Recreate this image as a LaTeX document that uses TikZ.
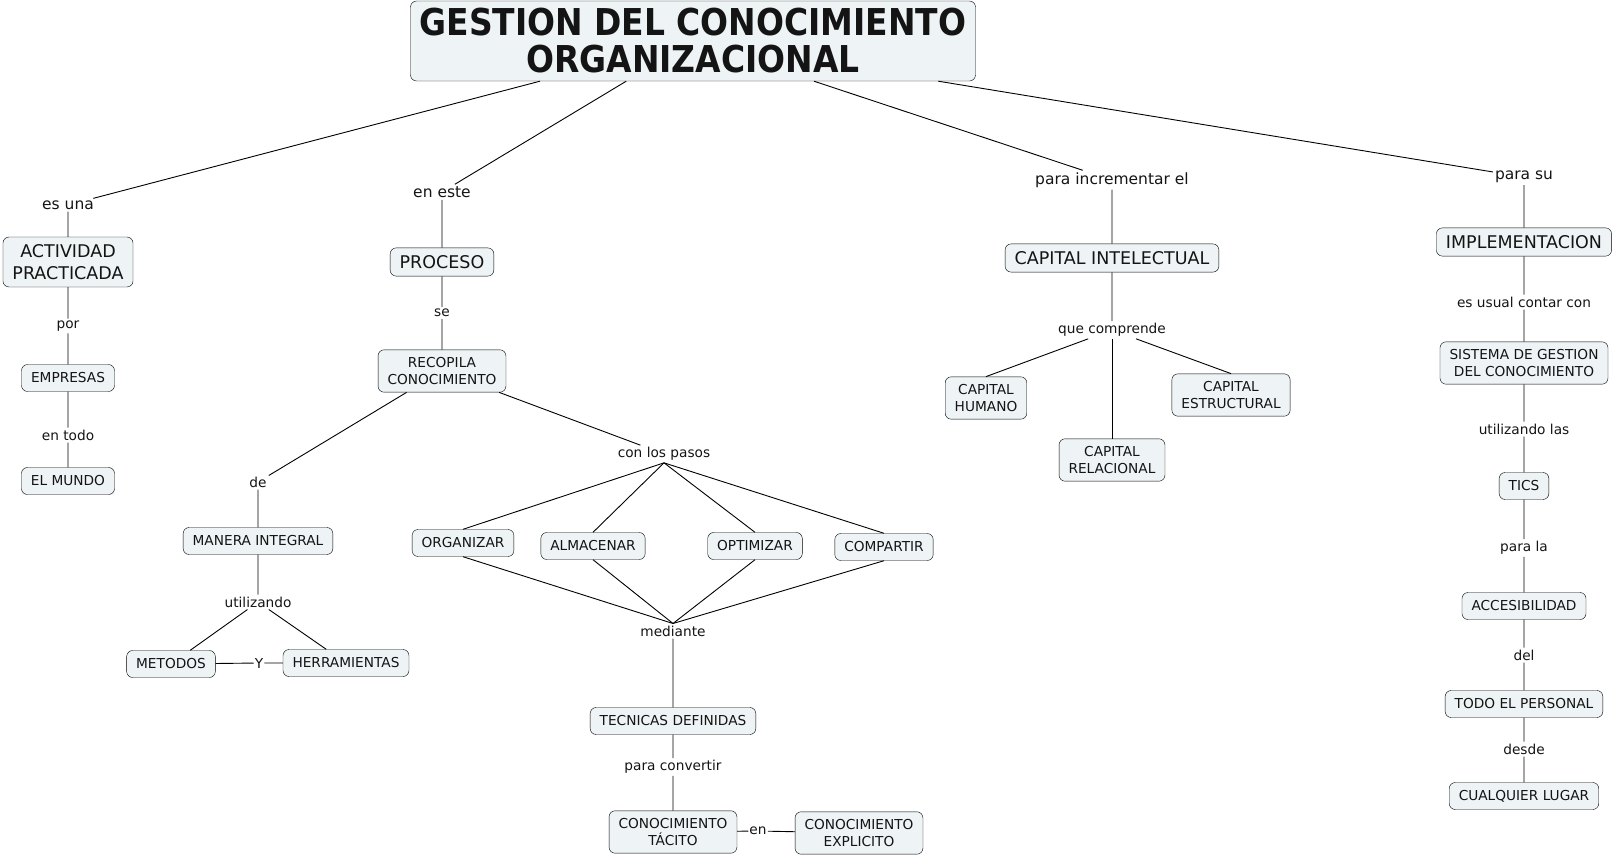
\documentclass[tikz,border=0pt]{standalone}
\usepackage{fontspec}
\setmainfont{DejaVu Sans}
\newfontfamily\titlefont[FakeStretch=0.89]{DejaVu Sans Bold}
\definecolor{cajafondo}{RGB}{238,244,246}
\definecolor{texto}{RGB}{20,20,20}

\begin{document}
\begin{tikzpicture}[
        x=1pt, y=-1pt,
        every node/.style={text=texto},
        concepto/.style={draw, fill=cajafondo, rounded corners=6pt, align=center, inner xsep=9.5pt, inner ysep=7.5pt, minimum height=27pt, font=\fontsize{13.7}{17}\selectfont},
        grande/.style={concepto, minimum height=28pt, font=\fontsize{17.5}{21.7}\selectfont},
        enlace/.style={inner sep=2pt, align=center, font=\fontsize{13.7}{16}\selectfont},
        enlace_grande/.style={enlace, font=\fontsize{15.5}{18}\selectfont},
        linea/.style={draw=black, line width=0.9pt}
        ]

        \useasboundingbox (0,0) rectangle (1617,856);

        % Title
        \node[concepto, inner xsep=9pt, minimum width=562pt, minimum height=78pt, font=\titlefont\fontsize{37}{37}\selectfont] (Gestion) at (693,41) {GESTION DEL CONOCIMIENTO\\ORGANIZACIONAL};

        % Branch 1: actividad
        \node[enlace_grande] (L_esuna) at (68,205) {es una};
        \node[grande] (Actividad) at (68,262) {ACTIVIDAD\\PRACTICADA};
        \node[enlace] (L_por) at (68,326) {por};
        \node[concepto] (Empresas) at (68,378) {EMPRESAS};
        \node[enlace] (L_entodo) at (68,435) {en todo};
        \node[concepto] (Mundo) at (68,481) {EL MUNDO};

        % Branch 2: proceso
        \node[enlace_grande] (L_eneste) at (442,192) {en este};
        \node[grande] (Proceso) at (442,262) {PROCESO};
        \node[enlace] (L_se) at (442,313) {se};
        \node[concepto] (Recopila) at (442,371) {RECOPILA\\CONOCIMIENTO};
        \node[enlace] (L_de) at (258,482) {de};
        \node[concepto] (Manera) at (258,541) {MANERA INTEGRAL};
        \node[enlace] (L_utilizando) at (258,602) {utilizando};
        \node[concepto] (Metodos) at (171,664) {METODOS};
        \node[enlace, inner sep=1pt] (L_y) at (259,663) {Y};
        \node[concepto] (Herramientas) at (346,663) {HERRAMIENTAS};
        \node[enlace] (L_pasos) at (664,454) {con los pasos};
        \node[concepto] (Paso-1) at (463,543) {ORGANIZAR};
        \node[concepto] (Paso-2) at (593,546) {ALMACENAR};
        \node[concepto] (Paso-3) at (755,546) {OPTIMIZAR};
        \node[concepto] (Paso-4) at (884,547) {COMPARTIR};
        \node[enlace] (L_mediante) at (673,631) {mediante};
        \node[concepto] (Tecnicas) at (673,721) {TECNICAS DEFINIDAS};
        \node[enlace] (L_convertir) at (673,767) {para convertir};
        \node[concepto] (Tacito) at (673,832) {CONOCIMIENTO\\TÁCITO};
        \node[enlace, inner sep=1pt] (L_en) at (758,831) {en};
        \node[concepto] (Explicito) at (859,833) {CONOCIMIENTO\\EXPLICITO};

        % Branch 3: capital intelectual
        \node[enlace_grande] (L_incrementar) at (1112,180) {para incrementar el};
        \node[grande] (Capital) at (1112,258) {CAPITAL INTELECTUAL};
        \node[enlace] (L_comprende) at (1112,330) {que comprende};
        \node[concepto] (Humano) at (986,398) {CAPITAL\\HUMANO};
        \node[concepto] (Relacional) at (1112,460) {CAPITAL\\RELACIONAL};
        \node[concepto] (Estructural) at (1231,395) {CAPITAL\\ESTRUCTURAL};

        % Branch 4: implementacion
        \node[enlace_grande] (L_parasu) at (1524,177) {para su};
        \node[grande] (Implementacion) at (1524,242) {IMPLEMENTACION};
        \node[enlace] (L_usual) at (1524,302) {es usual contar con};
        \node[concepto] (Sistema) at (1524,363) {SISTEMA DE GESTION\\DEL CONOCIMIENTO};
        \node[enlace] (L_las) at (1524,429) {utilizando las};
        \node[concepto] (Tics) at (1524,486) {TICS};
        \node[enlace] (L_parala) at (1524,548) {para la};
        \node[concepto] (Accesibilidad) at (1524,606) {ACCESIBILIDAD};
        \node[enlace] (L_del) at (1524,655) {del};
        \node[concepto] (Personal) at (1524,704) {TODO EL PERSONAL};
        \node[enlace] (L_desde) at (1524,749) {desde};
        \node[concepto] (Lugar) at (1524,796) {CUALQUIER LUGAR};

        % Connectors
        \draw[linea] (Gestion) -- (L_esuna) -- (Actividad) -- (L_por) -- (Empresas) -- (L_entodo) -- (Mundo);
        \draw[linea] (Gestion) -- (L_eneste) -- (Proceso) -- (L_se) -- (Recopila);
        \draw[linea] (Recopila) -- (L_de) -- (Manera) -- (L_utilizando);
        \draw[linea] (L_utilizando) -- (Metodos);
        \draw[linea] (L_utilizando) -- (Herramientas);
        \draw[linea] (Metodos) -- (L_y) -- (Herramientas);
        \draw[linea] (Recopila) -- (L_pasos);
        \foreach \x in {1,...,4}
            { \draw[linea] (L_pasos.south) -- (Paso-\x.north);
                \draw[linea] (Paso-\x.south) -- (L_mediante.north);}
        \draw[linea] (L_mediante) -- (Tecnicas) -- (L_convertir) -- (Tacito) -- (L_en) -- (Explicito);
        \draw[linea] (Gestion) -- (L_incrementar) -- (Capital) -- (L_comprende);
        \foreach \c in {Humano, Estructural}
            \draw[linea] (L_comprende) -- (\c.north);
        \draw[linea] (L_comprende) -- (Relacional);
        \draw[linea] (Gestion) -- (L_parasu) -- (Implementacion) -- (L_usual) -- (Sistema) -- (L_las) -- (Tics) -- (L_parala) -- (Accesibilidad) -- (L_del) -- (Personal) -- (L_desde) -- (Lugar);

\end{tikzpicture}
\end{document}
